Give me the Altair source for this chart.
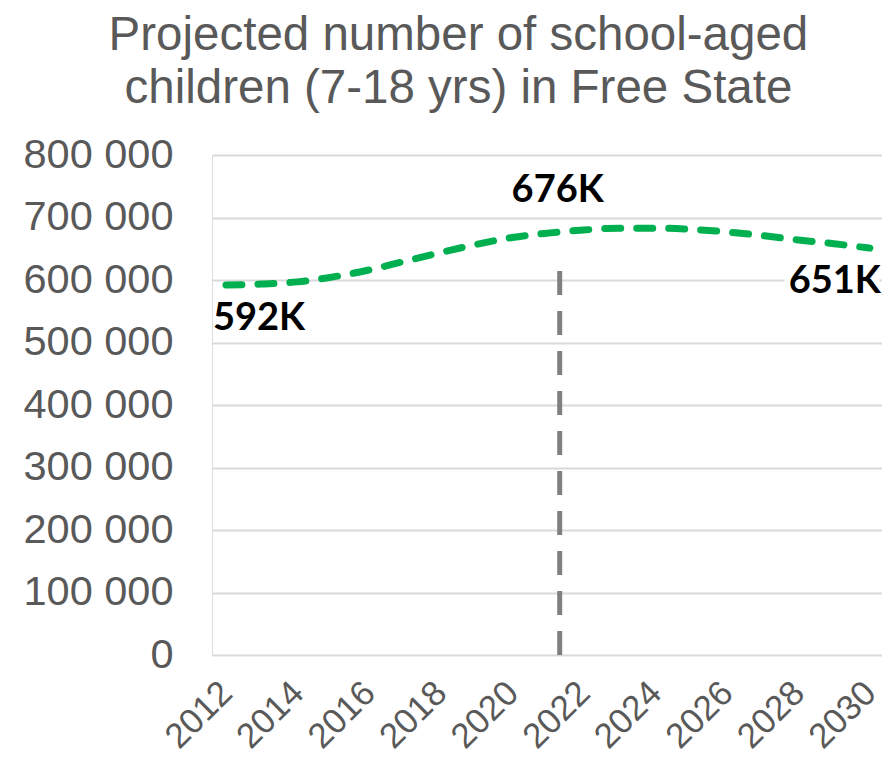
import altair as alt
import pandas as pd

# ---- data ----
years = list(range(2012, 2031))
children = [592000, 593500, 597000, 605000, 616000, 630000, 644000, 657000,
            668000, 675000, 680000, 683000, 683000, 681000, 677000, 671000,
            664000, 658000, 651000]

marker_year = [2021.33]
marker_bottom = [0]
marker_top = [630000]

label_years = [2012, 2021.33, 2030]
label_values = [592000, 676000, 651000]
label_texts = ["592K", "676K", "651K"]

y_ticks = list(range(0, 800001, 100000))
x_ticks = list(range(2012, 2031, 2))
title_lines = ["Projected number of school-aged",
               "children (7-18 yrs) in Free State"]

GREY = "#595959"
AXIS_FONT = "Liberation Sans"

line_df = pd.DataFrame({"year": years, "children": children})
rule_df = pd.DataFrame({"year": marker_year, "y0": marker_bottom, "y1": marker_top})
lab_df = pd.DataFrame({"year": label_years, "children": label_values, "text": label_texts})

x_enc = alt.X(
    "year:Q",
    scale=alt.Scale(domain=[2011.61, 2030.34], nice=False, zero=False),
    axis=alt.Axis(
        values=x_ticks, format="d", title=None, grid=False, ticks=False, domain=False,
        labelAngle=-45, labelAlign="right", labelBaseline="middle", labelPadding=32,
        labelFontSize=35, labelFont=AXIS_FONT, labelColor=GREY,
        labelFlush=False, labelOverlap=False, labelBound=False,
    ),
)
y_enc = alt.Y(
    "children:Q",
    scale=alt.Scale(domain=[0, 800000], nice=False),
    axis=alt.Axis(
        values=y_ticks, title=None, ticks=False, domain=False,
        labelExpr="replace(format(datum.value, ',d'), ',', ' ')",
        labelFontSize=41.5, labelFont=AXIS_FONT, labelColor=GREY, labelPadding=39,
        gridColor="#d9d9d9", gridWidth=2, labelFlush=False, labelOverlap=False,
        labelBound=False,
    ),
)

rule = alt.Chart(rule_df).mark_rule(
    color="#808080", strokeWidth=5, strokeDash=[24, 16]
).encode(x=alt.X("year:Q"), y=alt.Y("y0:Q"), y2="y1:Q")

line = alt.Chart(line_df).mark_line(
    color="#00B050", strokeWidth=7, strokeDash=[16, 16], strokeCap="round",
    interpolate="monotone"
).encode(x=x_enc, y=y_enc)

text_style = dict(font="Lato", fontSize=38, fontWeight="bold", baseline="middle")

lab_first = alt.Chart(lab_df.iloc[[0]]).mark_text(
    align="left", dx=-13, dy=34, color="black", **text_style
).encode(x="year:Q", y="children:Q", text="text:N")

lab_peak = alt.Chart(lab_df.iloc[[1]]).mark_text(
    align="center", dx=-2, dy=-42, color="black", **text_style
).encode(x="year:Q", y="children:Q", text="text:N")

lab_last_bg = alt.Chart(lab_df.iloc[[2]]).mark_text(
    align="right", dx=11, dy=34, color="white", stroke="white", strokeWidth=12,
    **text_style
).encode(x="year:Q", y="children:Q", text="text:N")

lab_last = alt.Chart(lab_df.iloc[[2]]).mark_text(
    align="right", dx=11, dy=34, color="black", **text_style
).encode(x="year:Q", y="children:Q", text="text:N")

chart = alt.layer(
    rule, line, lab_first, lab_peak, lab_last_bg, lab_last
).properties(
    width=670,
    height=500,
    autosize=alt.AutoSizeParams(type="none"),
    padding={"left": 204, "top": 147, "right": 0, "bottom": 105},
    title=alt.TitleParams(
        text=title_lines, fontSize=47.5, font=AXIS_FONT, color=GREY,
        fontWeight="normal", anchor="middle", frame="bounds", lineHeight=53,
        offset=22, dx=5,
    ),
).configure_view(stroke=None).configure(background="white")

chart.save("out.html", embed_options={"renderer": "svg", "actions": False})
